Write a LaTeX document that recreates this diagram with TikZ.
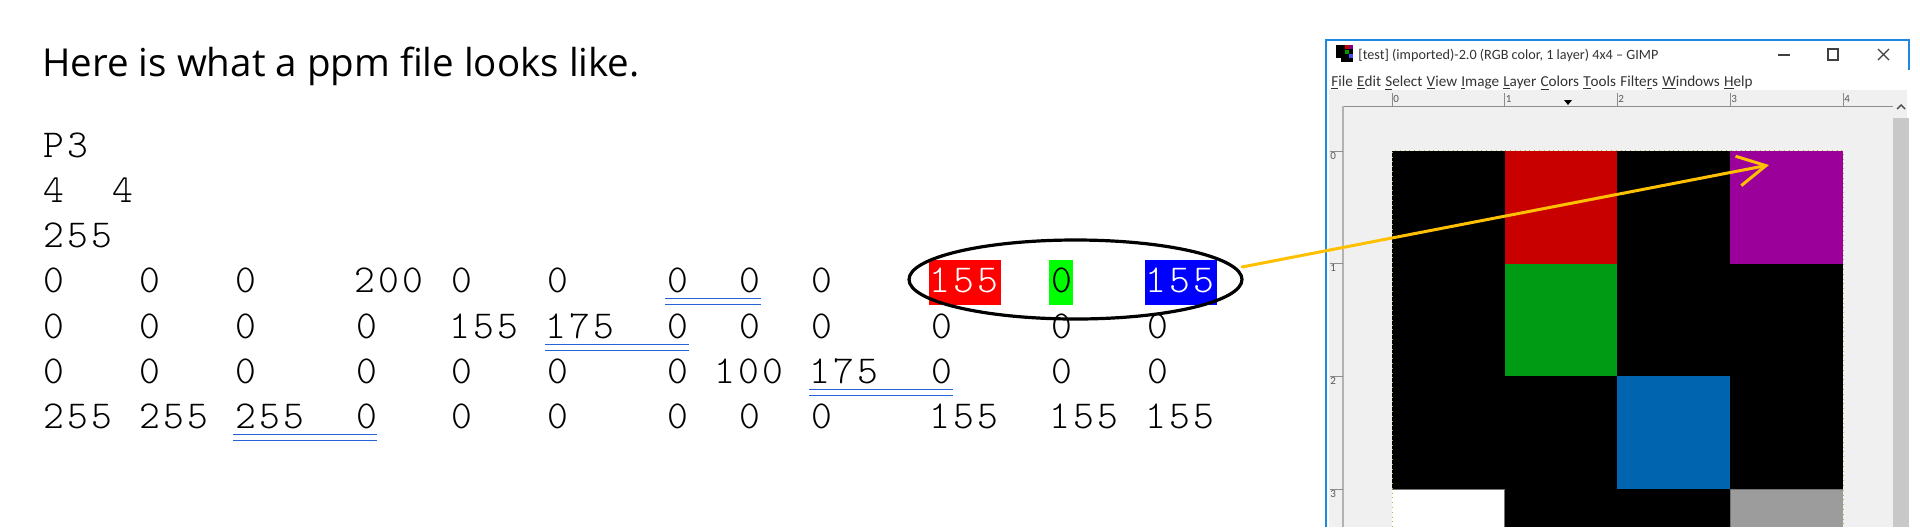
\documentclass[tikz,border=0pt]{standalone}
\usepackage{fontspec}
\usetikzlibrary{shapes.geometric,arrows.meta}
\setmainfont{Open Sans}
\newfontfamily\monof[LetterSpace=8.0]{Latin Modern Mono Light}
\newfontfamily\uifont{Carlito}
\definecolor{ulblue}{HTML}{2563D9}
\definecolor{orng}{HTML}{FFC000}
\definecolor{winblue}{HTML}{1E88E0}
\definecolor{gimpbg}{HTML}{F0F0F0}
\definecolor{scrollgray}{HTML}{C8C8C8}
\tikzset{
  mono/.style={anchor=base west,inner sep=0pt,xshift=1.2pt,font=\monof\fontsize{19.8}{24}\selectfont},
  dline/.style={draw=ulblue,line width=0.6pt},
  uitext/.style={anchor=base west,inner sep=0pt,text=black!80,font=\uifont\fontsize{7.6}{10}\selectfont},
  rulerlab/.style={anchor=north west,inner sep=0pt,text=black!65,font=\uifont\fontsize{5.5}{6}\selectfont},
  rulerln/.style={draw=black!45,line width=0.4pt},
  wincontrol/.style={draw=black!75,line width=0.6pt},
}
\newcommand{\ul}[1]{\underline{#1}}
\begin{document}
\begin{tikzpicture}[x=0.5pt,y=-0.5pt]
\useasboundingbox (0,0) rectangle (1920,527);
\fill[white] (0,0) rectangle (1920,527);
% title
\node[anchor=base west,inner sep=0pt,font=\fontsize{19.25}{22}\selectfont] (title) at (42,76) {Here is what a ppm file looks like.};
% header lines
\node[mono] (p3) at (41,157) {P3};
\node[mono] (size) at (41,202.3) {4\ \ 4};
\node[mono] (maxv) at (41,247.5) {255};
% highlight boxes
\fill[red] (929,260) rectangle (1001,305);
\fill[green] (1049,260) rectangle (1073,305);
\fill[blue] (1145,260) rectangle (1217,305);
% rows
\foreach \x/\t [count=\i] in {41/0,137/0,233/0,352/200,449/0,545/0,665/0,737/0,809/0,1049/0}
  \node[mono] (ra\i) at (\x,292.7) {\t};
\node[mono,text=white] (rared) at (927,292.7) {155};
\node[mono,text=white] (rablue) at (1143,292.7) {155};
\foreach \x/\t [count=\i] in {41/0,137/0,233/0,354/0,447/155,543/175,665/0,737/0,809/0,929/0,1049/0,1145/0}
  \node[mono] (rb\i) at (\x,338) {\t};
\foreach \x/\t [count=\i] in {41/0,137/0,233/0,354/0,449/0,545/0,665/0,712/100,807/175,929/0,1049/0,1145/0}
  \node[mono] (rc\i) at (\x,383) {\t};
\foreach \x/\t [count=\i] in {41/255,137/255,233/255,354/0,449/0,545/0,665/0,737/0,809/0,927/155,1047/155,1143/155}
  \node[mono] (rd\i) at (\x,428) {\t};
% double underlines
\foreach \a/\b/\y in {665/761/298.4,545/689/344.2,809/953/389.7,233/377/434.3}{
  \draw[dline] (\a,\y) -- (\b,\y);
  \draw[dline] (\a,\y+6) -- (\b,\y+6);
}
% ellipse
\node[ellipse,draw=black,line width=1.6pt,minimum width=166.5pt,minimum height=39.5pt,inner sep=0pt] (el) at (1075.5,279.5) {};
% GIMP window
\fill[white] (1326,39) rectangle (1909,527);
\fill[gimpbg] (1329,90) rectangle (1907,527);
\draw[winblue,line width=1pt] (1326,527) -- (1326,39.5) -- (1909,39.5) -- (1909,70);
% rulers
\draw[rulerln] (1343,106) -- (1893,106);
\draw[rulerln,line width=0.8pt,draw=black!30] (1343,106) -- (1343,527);
\fill[black] (1564,100) -- (1572,100) -- (1568,105) -- cycle;
\foreach \x/\t/\n in {1392/0/a,1504.5/1/b,1617/2/c,1730/3/d,1843/4/e}{
  \draw[rulerln] (\x,93) -- (\x,106);
  \node[rulerlab] (rh\n) at (\x+1,95) {\t};
}
\foreach \y/\t/\n in {151/0/a,263/1/b,376/2/c,489/3/d}{
  \draw[rulerln] (1330,\y) -- (1343,\y);
  \node[rulerlab] (rv\n) at (1330,\y+1) {\t};
}
% scrollbar
\fill[scrollgray] (1893,118) rectangle (1909,527);
\draw[black!70,line width=0.7pt] (1897,109) -- (1901,105) -- (1905,109);
% image cells
\foreach \x/\y/\c/\n in {
 1392/150.7/black/a1,1504.5/150.7/{rgb,255:red,200;green,0;blue,0}/a2,1617/150.7/black/a3,1730/150.7/{rgb,255:red,155;green,0;blue,155}/a4,
 1392/263.5/black/b1,1504.5/263.5/{rgb,255:red,0;green,155;blue,20}/b2,1617/263.5/black/b3,1730/263.5/black/b4,
 1392/376/black/c1,1504.5/376/black/c2,1617/376/{rgb,255:red,0;green,100;blue,175}/c3,1730/376/black/c4}
  \fill[fill=\c] (\x,\y) rectangle (\x+113,\y+113);
\fill[white] (1392,489) rectangle (1504.5,527);
\fill[black] (1504.5,489) rectangle (1730,527);
\fill[black!39] (1730,489) rectangle (1843,527);
\draw[black!55,line width=0.4pt] (1392,489) -- (1504.5,489) -- (1504.5,527);
\draw[black!55,line width=0.4pt] (1730,527) -- (1730,489) -- (1843,489);
\draw[yellow!70!black,line width=0.4pt,dotted] (1392,527) -- (1392,150.7) -- (1843,150.7) -- (1843,527);
% window chrome
\fill[black] (1336,45) rectangle (1353,62);
\fill[red!80!black] (1345,45) rectangle (1349,49);
\fill[violet] (1349,45) rectangle (1353,49);
\fill[green!60!black] (1345,50) rectangle (1349,54);
\fill[blue!70] (1349,54) rectangle (1353,58);
\fill[white] (1336,58) rectangle (1341,62);
\node[uitext,font=\uifont\fontsize{7.1}{10}\selectfont] (wintitle) at (1358,59) {[test] (imported)-2.0 (RGB color, 1 layer) 4x4 – GIMP};
\draw[wincontrol] (1778,55) -- (1790,55);
\draw[wincontrol] (1828,49) rectangle (1838,60);
\draw[wincontrol] (1878,49) -- (1889,60);
\draw[wincontrol] (1889,49) -- (1878,60);
\node[uitext] (menu) at (1331,86) {\ul{F}ile\hspace{2.1pt}\ul{E}dit\hspace{2.1pt}\ul{S}elect\hspace{2.1pt}\ul{V}iew\hspace{2.1pt}\ul{I}mage\hspace{2.1pt}\ul{L}ayer\hspace{2.1pt}\ul{C}olors\hspace{2.1pt}\ul{T}ools\hspace{2.1pt}Filte\ul{r}s\hspace{2.1pt}\ul{W}indows\hspace{2.1pt}\ul{H}elp};
% arrow
\coordinate (arrstart) at (1242,267);
\coordinate (arrtip) at (1769,165);
\draw[orng,line width=1.5pt,line cap=round,-{Straight Barb[length=14pt,width=15pt,line width=1.5pt]}] (arrstart) -- (arrtip);
\end{tikzpicture}
\end{document}
